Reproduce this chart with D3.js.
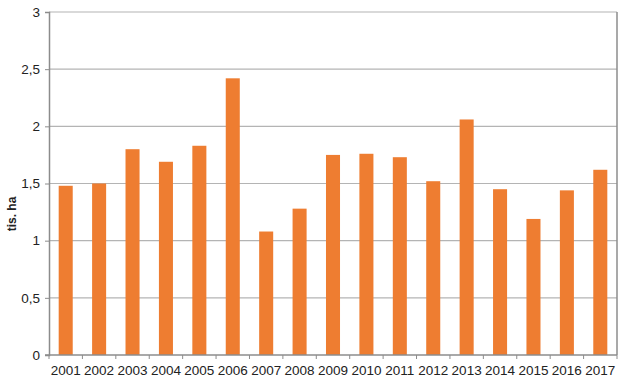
<!DOCTYPE html>
<html>
<head>
<meta charset="utf-8">
<script src="https://cdn.jsdelivr.net/npm/d3@7"></script>
<style>
  body { margin: 0; background: #fff; }
  svg text { font-family: "Liberation Sans", Arial, sans-serif; }
</style>
</head>
<body>
<div id="chart"></div>
<script>
'use strict';

var years = ['2001', '2002', '2003', '2004', '2005', '2006', '2007', '2008', '2009',
  '2010', '2011', '2012', '2013', '2014', '2015', '2016', '2017'];
var values = [1.48, 1.5, 1.8, 1.69, 1.83, 2.42, 1.08, 1.28, 1.75,
  1.76, 1.73, 1.52, 2.06, 1.45, 1.19, 1.44, 1.62];
var yTicks = [0, 0.5, 1, 1.5, 2, 2.5, 3];
var yLabel = 'tis. ha';

var W = 627, H = 381;
var margin = {top: 12, right: 10, bottom: 26, left: 49};

var svg = d3.select('#chart').append('svg')
  .attr('width', W)
  .attr('height', H);

var x = d3.scaleBand()
  .domain(years)
  .range([margin.left, W - margin.right])
  .paddingInner(0.58)
  .paddingOuter(0.29);

var y = d3.scaleLinear()
  .domain([0, 3])
  .range([H - margin.bottom, margin.top]);

var fmt = function(d) { return String(d).replace('.', ','); };

// gridlines
svg.append('g')
  .selectAll('line')
  .data(yTicks.filter(function(d) { return d > 0; }))
  .enter().append('line')
    .attr('x1', margin.left)
    .attr('x2', W - margin.right)
    .attr('y1', function(d) { return y(d); })
    .attr('y2', function(d) { return y(d); })
    .attr('stroke', '#b4b4b4')
    .attr('stroke-width', 1.2);

// right border
svg.append('line')
  .attr('x1', W - margin.right).attr('x2', W - margin.right)
  .attr('y1', margin.top).attr('y2', H - margin.bottom)
  .attr('stroke', '#8c8c8c')
  .attr('stroke-width', 1.5);

// bars
svg.append('g')
  .selectAll('rect')
  .data(values)
  .enter().append('rect')
    .attr('x', function(d, i) { return x(years[i]); })
    .attr('y', function(d) { return y(d); })
    .attr('width', x.bandwidth())
    .attr('height', function(d) { return y(0) - y(d); })
    .attr('fill', '#ee7d31');

// y axis
var yAxis = svg.append('g')
  .attr('transform', 'translate(' + margin.left + ',0)')
  .call(d3.axisLeft(y).tickValues(yTicks).tickFormat(fmt).tickSize(4).tickPadding(5));
yAxis.select('.domain').attr('stroke', '#8c8c8c').attr('stroke-width', 1.5);
yAxis.selectAll('.tick line').attr('stroke', '#8c8c8c');
yAxis.selectAll('text').attr('font-size', 13.5).attr('fill', '#222');

// x axis, ticks at band boundaries
var boundaries = d3.range(years.length + 1).map(function(i) {
  return margin.left + i * (W - margin.right - margin.left) / years.length;
});
var xg = svg.append('g')
  .attr('transform', 'translate(0,' + y(0) + ')');
xg.append('line')
  .attr('x1', margin.left - 4).attr('x2', W - margin.right)
  .attr('stroke', '#8c8c8c').attr('stroke-width', 1.5);
xg.selectAll('.tk')
  .data(boundaries)
  .enter().append('line')
    .attr('class', 'tk')
    .attr('x1', function(d) { return d; })
    .attr('x2', function(d) { return d; })
    .attr('y1', 0).attr('y2', 4)
    .attr('stroke', '#8c8c8c');
xg.selectAll('text')
  .data(years)
  .enter().append('text')
    .attr('x', function(d) { return x(d) + x.bandwidth() / 2; })
    .attr('y', 20)
    .attr('text-anchor', 'middle')
    .attr('font-size', 13.5)
    .attr('fill', '#222')
    .text(function(d) { return d; });

// y label
svg.append('text')
  .attr('transform', 'translate(16,214) rotate(-90)')
  .attr('text-anchor', 'middle')
  .attr('font-size', 12)
  .attr('font-weight', 'bold')
  .attr('fill', '#222')
  .text(yLabel);
</script>
</body>
</html>
